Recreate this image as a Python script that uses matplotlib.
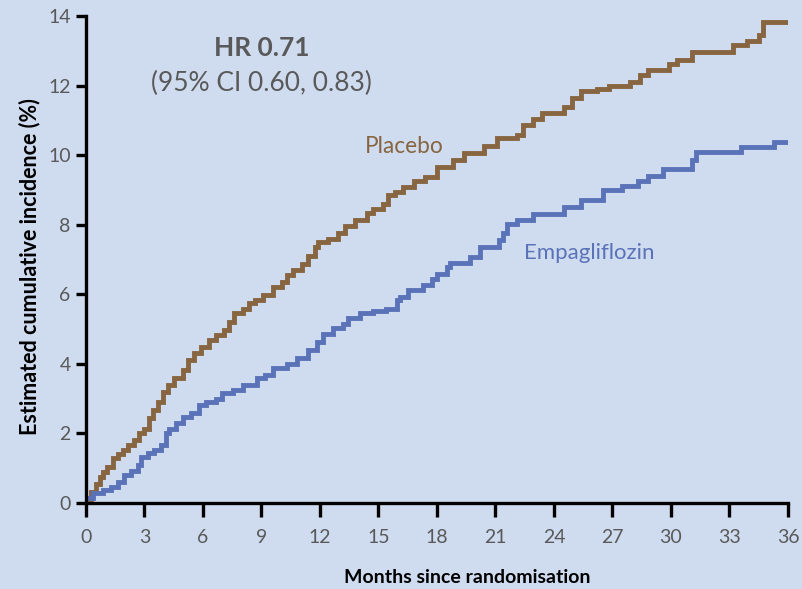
import matplotlib.pyplot as plt

plt.rcParams['font.family'] = ['Lato', 'DejaVu Sans']

# cumulative incidence step knots: month where each level starts, level in %
placebo_t = [0, 0.26, 0.5, 0.7, 0.85, 1.1, 1.37, 1.62, 1.88, 2.14,
             2.48, 2.73, 3.0, 3.25, 3.42, 3.68, 3.93, 4.19, 4.53, 4.96,
             5.21, 5.56, 5.9, 6.32, 6.67, 7.09, 7.35, 7.6, 8.03, 8.38,
             8.67, 9.1, 9.6, 10.03, 10.29, 10.63, 11.06, 11.4, 11.74, 11.91,
             12.43, 12.94, 13.28, 13.79, 14.39, 14.73, 15.24, 15.5, 15.85, 16.27,
             16.8, 17.4, 18.0, 18.8, 19.4, 20.4, 21.1, 22.1, 22.4, 22.9,
             23.4, 24.5, 24.9, 25.4, 26.2, 26.8, 27.9, 28.4, 28.8, 29.9,
             30.3, 31.1, 33.2, 33.9, 34.5, 34.7, 36]
placebo_y = [0, 0.33, 0.55, 0.76, 0.9, 1.04, 1.28, 1.40, 1.52, 1.67,
             1.81, 2.0, 2.14, 2.43, 2.67, 2.91, 3.2, 3.39, 3.58, 3.82,
             4.1, 4.3, 4.49, 4.68, 4.83, 4.97, 5.21, 5.45, 5.59, 5.74,
             5.83, 5.98, 6.2, 6.36, 6.55, 6.71, 6.88, 7.1, 7.36, 7.51,
             7.58, 7.77, 7.96, 8.15, 8.34, 8.44, 8.61, 8.85, 8.95, 9.09,
             9.26, 9.38, 9.66, 9.86, 10.07, 10.26, 10.48, 10.57, 10.86, 11.03,
             11.2, 11.39, 11.64, 11.84, 11.89, 11.98, 12.1, 12.3, 12.46, 12.63,
             12.73, 12.97, 13.18, 13.27, 13.45, 13.83, 13.83]

empa_t = [0, 0.34, 0.85, 1.28, 1.62, 1.97, 2.3, 2.65, 2.82, 3.16,
          3.5, 3.85, 4.1, 4.27, 4.62, 4.96, 5.38, 5.81, 6.15, 6.67,
          7.0, 7.52, 8.03, 8.75, 9.18, 9.6, 10.29, 10.8, 11.4, 11.83,
          12.17, 12.68, 13.2, 13.45, 14.05, 14.73, 15.41, 15.93, 16.1, 16.52,
          17.3, 17.72, 17.98, 18.5, 18.67, 19.7, 20.2, 21.2, 21.4, 21.6,
          22.1, 22.9, 24.5, 25.4, 26.5, 27.5, 28.3, 28.8, 29.6, 31.1,
          31.3, 33.6, 35.3, 36]
empa_y = [0.13, 0.28, 0.38, 0.47, 0.61, 0.8, 0.93, 1.09, 1.33, 1.43,
          1.52, 1.67, 2.0, 2.14, 2.29, 2.48, 2.58, 2.82, 2.91, 3.0,
          3.15, 3.26, 3.39, 3.58, 3.68, 3.87, 3.99, 4.18, 4.4, 4.64,
          4.87, 5.02, 5.14, 5.31, 5.45, 5.53, 5.59, 5.83, 5.93, 6.12,
          6.26, 6.45, 6.59, 6.79, 6.9, 7.07, 7.36, 7.55, 7.75, 8.03,
          8.15, 8.32, 8.5, 8.72, 9.0, 9.1, 9.25, 9.4, 9.59, 9.86,
          10.1, 10.24, 10.38, 10.38]

x_ticks = list(range(0, 37, 3))
y_ticks = list(range(0, 15, 2))

bg = '#CFDCEF'
brown = '#866540'
blue = '#5A72B8'
grey = '#595959'

fig = plt.figure(figsize=(8.02, 5.89), dpi=100, facecolor=bg)
ax = fig.add_axes([0.1072, 0.146, 0.8753, 0.8268])
ax.set_facecolor(bg)

ax.step(placebo_t, placebo_y, where='post', color=brown, lw=3.5, solid_joinstyle='miter')
ax.step(empa_t, empa_y, where='post', color=blue, lw=3.5, solid_joinstyle='miter')

ax.set_xlim(0, 36)
ax.set_ylim(0, 14)
ax.set_xticks(x_ticks)
ax.set_yticks(y_ticks)

for side in ('top', 'right'):
    ax.spines[side].set_visible(False)
for side in ('left', 'bottom'):
    ax.spines[side].set_linewidth(2.4)
    ax.spines[side].set_color('black')
ax.tick_params(axis='x', direction='out', length=10, width=2.4, pad=9,
               labelsize=14, labelcolor=grey)
ax.tick_params(axis='y', direction='out', length=7, width=2.4, pad=4,
               labelsize=14, labelcolor=grey)

ax.set_xlabel('Months since randomisation', fontsize=14, fontweight='bold',
              va='center')
ax.xaxis.set_label_coords(0.543, -0.152)
ax.set_ylabel('Estimated cumulative incidence (%)', fontsize=15.5, fontweight='bold',
              va='center')
ax.yaxis.set_label_coords(-0.08, 0.485)

ax.text(9.0, 13.07, 'HR 0.71', ha='center', va='center', fontsize=19, fontweight='bold', color=grey)
ax.text(9.0, 12.07, '(95% CI 0.60, 0.83)', ha='center', va='center', fontsize=19, color=grey)
ax.text(16.3, 10.26, 'Placebo', ha='center', va='center', fontsize=16.3, color=brown)
ax.text(25.8, 7.2, 'Empagliflozin', ha='center', va='center', fontsize=16, color=blue)

fig.savefig('out.png', dpi=100, facecolor=bg)
